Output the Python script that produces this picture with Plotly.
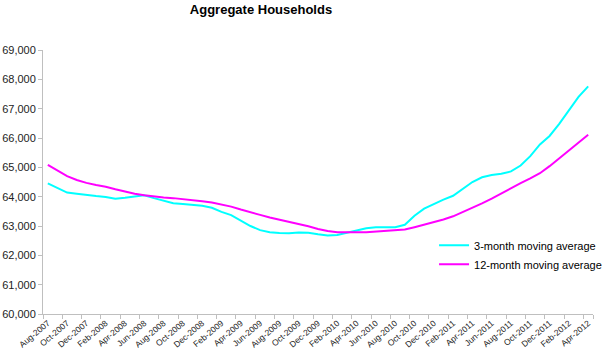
import plotly.graph_objects as go

months = []
names = ["Jan", "Feb", "Mar", "Apr", "May", "Jun", "Jul", "Aug", "Sep", "Oct", "Nov", "Dec"]
y, m = 2007, 8
while (y, m) <= (2012, 4):
    months.append(f"{names[m-1]}-{y}")
    m += 1
    if m > 12:
        m = 1
        y += 1

ma3 = [64456, 64300, 64140, 64100, 64050, 64020, 63990, 63930, 63960, 64000,
       64050, 63950, 63850, 63775, 63750, 63720, 63690, 63620, 63480, 63370,
       63180, 63000, 62860, 62790, 62760, 62750, 62780, 62770, 62720, 62680,
       62690, 62760, 62850, 62920, 62955, 62955, 62960, 63040, 63350, 63590,
       63750, 63900, 64030, 64280, 64500, 64660, 64740, 64780, 64860, 65060,
       65380, 65780, 66070, 66480, 66950, 67400, 67760]

ma12 = [65080, 64880, 64700, 64570, 64470, 64400, 64340, 64250, 64170, 64100,
        64050, 64000, 63970, 63950, 63920, 63880, 63840, 63800, 63730, 63660,
        63560, 63460, 63380, 63290, 63220, 63130, 63060, 62990, 62900, 62830,
        62790, 62780, 62785, 62790, 62810, 62830, 62850, 62880, 62960, 63040,
        63120, 63220, 63330, 63470, 63610, 63770, 63930, 64110, 64290, 64460,
        64620, 64800, 65040, 65310, 65580, 65850, 66110]

tick_labels = months[::2]
y_ticks = list(range(60000, 69001, 1000))

fig = go.Figure()
fig.add_trace(go.Scatter(x=months, y=ma3, mode="lines", name="3-month moving average",
                         line=dict(color="#00FFFF", width=2)))
fig.add_trace(go.Scatter(x=months, y=ma12, mode="lines", name="12-month moving average",
                         line=dict(color="#FF00FF", width=2)))

fig.update_layout(
    width=610, height=351,
    margin=dict(l=43, r=3, t=50, b=37),
    paper_bgcolor="white", plot_bgcolor="white",
    font=dict(family="Arial, Liberation Sans, sans-serif", color="#000000"),
    title=dict(text="<b>Aggregate Households</b>", x=261/610, xanchor="center",
               xref="container", y=1-9/351, yanchor="middle", yref="container",
               font=dict(size=13, color="#000000")),
    showlegend=True,
    legend=dict(x=0.711, y=0.315, xanchor="left", yanchor="top",
                bgcolor="rgba(0,0,0,0)", font=dict(size=11), tracegroupgap=0,
                itemwidth=30),
)
fig.update_xaxes(type="category", categoryorder="array", categoryarray=months,
                 range=[-0.5, len(months) - 0.5],
                 tickmode="array", tickvals=tick_labels, ticktext=tick_labels,
                 tickangle=-40, tickfont=dict(size=8.5, color="#222222"),
                 showline=True, linecolor="#BFBFBF", linewidth=1,
                 ticks="outside", ticklen=4, tickcolor="#BFBFBF", tickson="boundaries",
                 showgrid=False, zeroline=False, automargin=False)
fig.update_yaxes(range=[60000, 69000], tickvals=y_ticks,
                 ticktext=[f"{v:,}" for v in y_ticks],
                 tickfont=dict(size=11, color="#222222"),
                 showline=True, linecolor="#BFBFBF", linewidth=1,
                 ticks="outside", ticklen=4, tickcolor="#BFBFBF",
                 showgrid=False, zeroline=False, automargin=False)

fig.write_html("out.html")
